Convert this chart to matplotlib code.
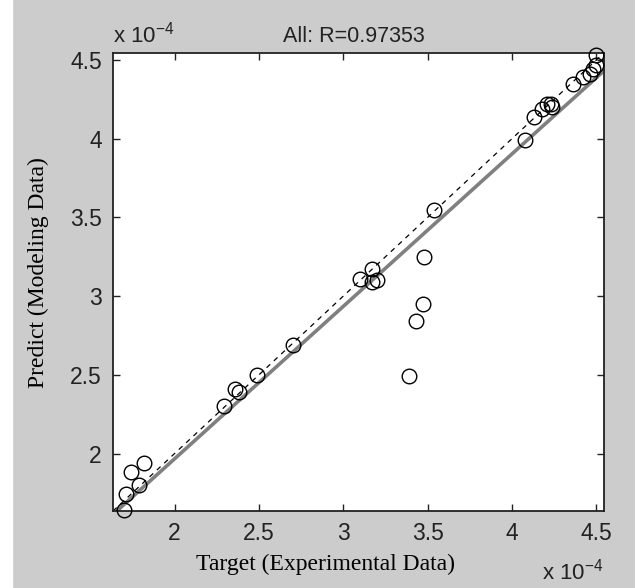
import matplotlib
matplotlib.use('Agg')
import matplotlib.pyplot as plt
import numpy as np

# values in units of 1e-4
target = [1.70, 1.71, 1.74, 1.79, 1.82, 2.29, 2.36, 2.38, 2.49, 2.70,
          3.10, 3.17, 3.17, 3.20, 3.39, 3.43, 3.47, 3.48, 3.54,
          4.08, 4.13, 4.18, 4.21, 4.23, 4.24, 4.36, 4.42, 4.46, 4.48, 4.50, 4.50]
predict = [1.64, 1.74, 1.88, 1.80, 1.94, 2.30, 2.41, 2.39, 2.50, 2.69,
           3.11, 3.17, 3.09, 3.10, 2.49, 2.84, 2.95, 3.25, 3.55,
           3.99, 4.14, 4.19, 4.22, 4.22, 4.20, 4.35, 4.39, 4.41, 4.44, 4.47, 4.53]
x_ticks = [2, 2.5, 3, 3.5, 4, 4.5]
y_ticks = [2, 2.5, 3, 3.5, 4, 4.5]
lims = [1.635, 4.545]
r_value = 0.97353

plt.rcParams['font.family'] = 'Liberation Sans'
plt.rcParams['mathtext.fontset'] = 'custom'
plt.rcParams['mathtext.rm'] = 'Liberation Sans'

fig = plt.figure(figsize=(6.35, 5.88), dpi=100, facecolor='#cccccc')
# thin white strip on the left edge of the scan
fig.patches.append(plt.Rectangle((0, 0), 12 / 635, 1, transform=fig.transFigure,
                                 color='white', zorder=0))
ax = fig.add_axes([0.178, 0.131, 0.773, 0.779])

# fit line
coef = np.polyfit(target, predict, 1)
xs = np.array(lims)
ax.plot(xs, coef[0] * xs + coef[1], color='#808080', lw=2.6, zorder=2)
# Y = T
ax.plot(xs, xs, color='black', lw=0.9, ls=(0, (4, 4)), zorder=2)
ax.plot(target, predict, 'o', mfc='none', mec='black', ms=10.5, mew=1.0,
        clip_on=False, zorder=3)

ax.set_xlim(lims)
ax.set_ylim(lims)
ax.set_xticks(x_ticks)
ax.set_yticks(y_ticks)
ax.set_xticklabels(['2', '2.5', '3', '3.5', '4', '4.5'])
ax.set_yticklabels(['2', '2.5', '3', '3.5', '4', '4.5'])
ax.tick_params(direction='in', length=5, width=1, top=True, right=True,
               labelsize=16.5, pad=8, colors='#222222')
for s in ax.spines.values():
    s.set_linewidth(1.3)
    s.set_color('#222222')

ax.set_xlabel('Target (Experimental Data)', family='Liberation Serif', fontsize=17)
ax.xaxis.set_label_coords(0.432, -0.094)
ax.set_ylabel('Predict (Modeling Data)', family='Liberation Serif', fontsize=17)
ax.yaxis.set_label_coords(-0.13, 0.52)

ax.text(0.49, 1.012, 'All: R=%.5f' % r_value, transform=ax.transAxes,
        ha='center', va='bottom', fontsize=15.5, color='#222222')
ax.text(0.0, 1.012, r'x 10$^{-4}$', transform=ax.transAxes,
        ha='left', va='bottom', fontsize=16, color='#222222')
ax.text(1.0, -0.105, r'x 10$^{-4}$', transform=ax.transAxes,
        ha='right', va='top', fontsize=16, color='#222222')

fig.savefig('out.png', dpi=100, facecolor=fig.get_facecolor())
